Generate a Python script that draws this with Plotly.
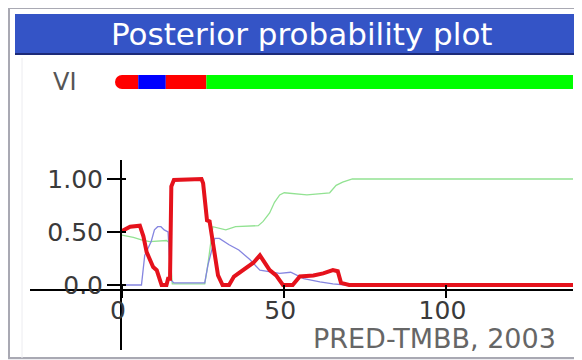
import plotly.graph_objects as go

# ---- data ----
red_x = [0, 2.5, 5.5, 6.6, 7.6, 8.6, 9.6, 10.7, 11.7, 12.2, 13.7, 14.2, 14.8, 15.2, 16, 24.5, 25, 26.2, 27, 28.6,
         29.6, 31, 33, 34.5, 38.5, 40.5, 42.5, 45.5, 47.5, 49.6, 52.6, 54.8, 59, 62, 65, 66.5, 67.5, 70, 139]
red_y = [0.51, 0.55, 0.56, 0.46, 0.31, 0.24, 0.17, 0.14, 0.05, 0.0, 0.0, 0.06, 0.06, 0.93, 0.99, 1.0, 0.96, 0.61, 0.60, 0.27,
         0.09, 0.0, 0.0, 0.08, 0.16, 0.21, 0.28, 0.14, 0.09, 0.0, 0.0, 0.08, 0.09, 0.11, 0.14, 0.13, 0.02, 0.0, 0.0]

blue_x = [0, 6, 7, 8, 9, 10, 11, 12, 13, 14.2, 15, 16, 25.5, 26.5, 28.6, 30, 33, 36, 39.4, 42.5,
          48.6, 52, 54, 56, 61, 65, 69, 139]
blue_y = [0.0, 0.0, 0.28, 0.35, 0.41, 0.52, 0.55, 0.55, 0.52, 0.50, 0.05, 0.02, 0.02, 0.19, 0.44, 0.44, 0.38, 0.33, 0.24, 0.14,
          0.11, 0.12, 0.09, 0.06, 0.03, 0.01, 0.0, 0.0]

green_x = [0, 3.5, 6.5, 8.6, 13.7, 14.5, 15.5, 25.5, 26.5, 28, 32, 35, 42, 43.5, 45.5, 47, 48.6, 50, 57, 60,
           64, 66, 68, 71, 139]
green_y = [0.47, 0.45, 0.42, 0.41, 0.42, 0.40, 0.01, 0.01, 0.20, 0.55, 0.52, 0.55, 0.56, 0.60, 0.68, 0.78, 0.85, 0.87, 0.85, 0.86,
           0.87, 0.94, 0.97, 1.0, 1.0]

vi_start = [0, 5, 13.5, 26]
vi_end = [5, 13.5, 26, 139]
vi_color = ["#ff0000", "#0000ff", "#ff0000", "#00ff00"]

x_ticks = [0, 50, 100]
y_ticks = [0, 0.5, 1.0]
y_ticktext = ["0.0", "0.50", "1.00"]

FONT = "DejaVu Sans"

# ---- geometry: page pixels; the page body has an 8px margin ----
OFF = 8
W, H = 582 - OFF, 360 - OFF
P_LEFT, P_RIGHT, P_TOP, P_BOTTOM = 30, 573, 60, 350     # plot area in page pixels
ML = P_LEFT - OFF
MR = (W + OFF) - P_RIGHT
MT = P_TOP - OFF
MB = (H + OFF) - P_BOTTOM
PW, PH = P_RIGHT - P_LEFT, P_BOTTOM - P_TOP


def px(x):
    return (x - P_LEFT) / PW


def py(y):
    return (P_BOTTOM - y) / PH


fig = go.Figure()

# helper invisible traces for crossing tick marks
fig.add_trace(go.Scatter(x=[], y=[], xaxis="x2", yaxis="y", showlegend=False, hoverinfo="skip"))
fig.add_trace(go.Scatter(x=[], y=[], xaxis="x", yaxis="y3", showlegend=False, hoverinfo="skip"))

fig.add_trace(go.Scatter(x=green_x, y=green_y, mode="lines",
                         line=dict(color="#92e292", width=1.3), showlegend=False))
fig.add_trace(go.Scatter(x=blue_x, y=blue_y, mode="lines",
                         line=dict(color="#8585e0", width=1.3), showlegend=False))
fig.add_trace(go.Scatter(x=red_x, y=red_y, mode="lines",
                         line=dict(color="#e5121c", width=4), showlegend=False))

# VI bar
for s, e, c in zip(vi_start, vi_end, vi_color):
    fig.add_trace(go.Scatter(x=[s, e], y=[0.5, 0.5], mode="lines", xaxis="x", yaxis="y2",
                             line=dict(color=c, width=14), showlegend=False, hoverinfo="skip"))
fig.add_trace(go.Scatter(x=[vi_start[0], vi_end[-1]], y=[0.5, 0.5], mode="markers", xaxis="x", yaxis="y2",
                         marker=dict(color=[vi_color[0], vi_color[-1]], size=14, line=dict(width=0)),
                         showlegend=False, hoverinfo="skip"))

ppu = (573 - 122) / 139.0
xr = [-(122 - P_LEFT) / ppu, (P_RIGHT - 122) / ppu]
zero_py, ppu_y = 285, 106
yr = [-(350 - zero_py) / ppu_y, (zero_py - 160) / ppu_y]
ydom = [0, py(160)]
xpos = py(290)
ypos = px(121)

tickfont = dict(family=FONT, size=25, color="#3a3a3a")

fig.update_layout(
    width=W, height=H,
    margin=dict(l=ML, r=MR, t=MT, b=MB, pad=0, autoexpand=False),
    paper_bgcolor="#ededf1",
    plot_bgcolor="rgba(0,0,0,0)",
    xaxis=dict(domain=[0, 1], range=xr, anchor="free", position=xpos,
               showline=True, linecolor="black", linewidth=2,
               ticks="outside", ticklen=7, tickwidth=2, tickcolor="black",
               tickvals=x_ticks, tickfont=tickfont, showgrid=False, zeroline=False,
               ticklabelstandoff=-9, ticklabelshift=-4),
    xaxis2=dict(domain=[0, 1], range=xr, anchor="free", position=xpos, overlaying="x",
                showline=False, ticks="inside", ticklen=5, tickwidth=2, tickcolor="black",
                tickvals=x_ticks, showticklabels=False, showgrid=False, zeroline=False),
    yaxis=dict(domain=ydom, range=yr, anchor="free", position=ypos,
               showline=True, linecolor="black", linewidth=2,
               ticks="outside", ticklen=13, tickwidth=2, tickcolor="black",
               tickvals=y_ticks, ticktext=y_ticktext, tickfont=tickfont,
               showgrid=False, zeroline=False, ticklabelstandoff=-1),
    yaxis3=dict(domain=ydom, range=yr, anchor="free", position=ypos, overlaying="y",
                showline=False, ticks="inside", ticklen=4, tickwidth=2, tickcolor="black",
                tickvals=y_ticks, showticklabels=False, showgrid=False, zeroline=False),
    yaxis2=dict(domain=[py(89), py(75)], range=[0, 1], visible=False, fixedrange=True),
    shapes=[
        # white frame
        dict(type="rect", xref="paper", yref="paper", x0=px(9), x1=px(600), y0=py(358), y1=py(8),
             fillcolor="white", line=dict(color="#a9a9b3", width=2), layer="below"),
        # faint inner line
        dict(type="line", xref="paper", yref="paper", x0=px(22), x1=px(22), y0=py(358), y1=py(58),
             line=dict(color="#ececf0", width=1), layer="below"),
        # title bar
        dict(type="rect", xref="paper", yref="paper", x0=px(15), x1=px(580), y0=py(54), y1=py(14),
             fillcolor="#3454c6", line=dict(width=0), layer="below"),
        dict(type="line", xref="paper", yref="paper", x0=px(15), x1=px(581), y0=py(54), y1=py(54),
             line=dict(color="#1c2a78", width=2), layer="below"),
        dict(type="line", xref="paper", yref="paper", x0=px(580.5), x1=px(580.5), y0=py(54), y1=py(14),
             line=dict(color="#1c2a78", width=1.5), layer="below"),
    ],
    annotations=[
        dict(text="Posterior probability plot", xref="paper", yref="paper", x=px(302), y=py(34),
             xanchor="center", yanchor="middle", showarrow=False,
             font=dict(family=FONT, size=31, color="white")),
        dict(text="VI", xref="paper", yref="paper", x=px(65), y=py(82),
             xanchor="center", yanchor="middle", showarrow=False,
             font=dict(family=FONT, size=24, color="#555555")),
        dict(text="PRED-TMBB, 2003", xref="paper", yref="paper", x=px(434), y=py(338),
             xanchor="center", yanchor="middle", showarrow=False,
             font=dict(family=FONT, size=27, color="#666666")),
    ],
)

fig.write_html("out.html")
